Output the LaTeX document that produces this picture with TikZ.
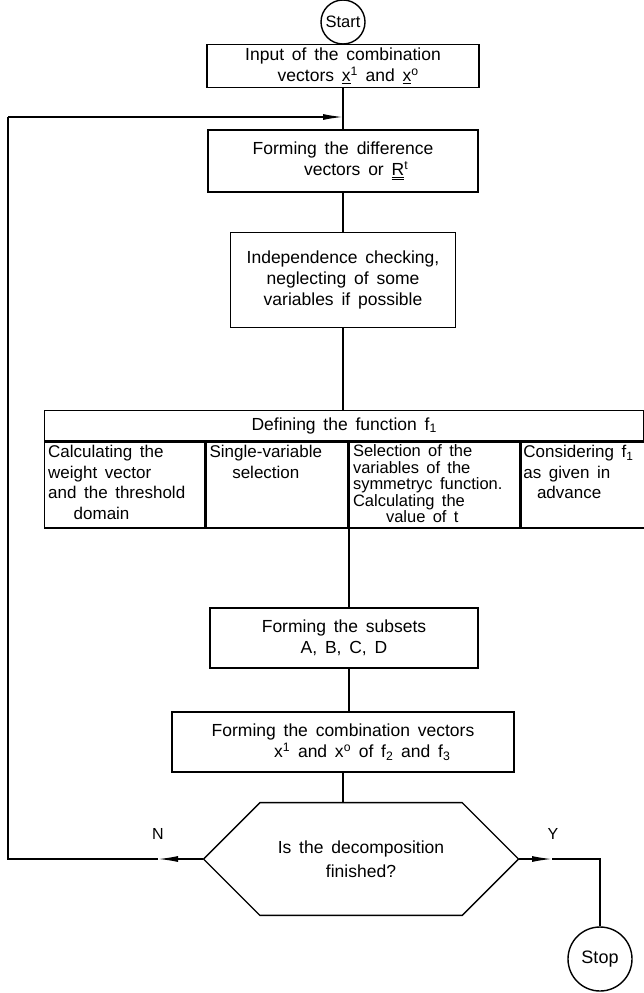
\documentclass[tikz,border=0pt]{standalone}
\usepackage{fontspec}
\setmainfont{Liberation Sans}[WordSpace=1.6]
\usetikzlibrary{arrows.meta,shapes.misc}

\tikzset{
  flow/.style={line width=1.4pt},
  arrowtip/.style={-{Latex[length=20pt,width=6pt]}},
  proc/.style={draw, rectangle, line width=1.4pt, align=center, inner sep=0pt,
    font=\fontsize{17.5}{21}\selectfont},
  term/.style={draw, circle, line width=1.4pt, inner sep=0pt},
  cellbox/.style={draw, rectangle, line width=1.4pt, inner sep=0pt, anchor=north west},
  celltext/.style={inner sep=0pt, font=\fontsize{17}{20.5}\selectfont},
  decision/.style={draw, chamfered rectangle, chamfered rectangle xsep=31pt,
    chamfered rectangle ysep=38pt, line width=1.4pt, align=center, inner sep=0pt,
    font=\fontsize{17.5}{24}\selectfont},
  branch/.style={inner sep=0pt, font=\fontsize{16}{18}\selectfont},
}

\begin{document}
\begin{tikzpicture}[x=1pt,y=-1pt]
\useasboundingbox (0,0) rectangle (644,993);

% main column
\node[term, minimum size=44pt, font=\fontsize{16.5}{18}\selectfont] (start) at (343,22) {Start};
\node[proc, minimum width=272pt, minimum height=43pt] (input) at (343,66)
  {Input of the combination\\\hspace*{0.6em}vectors \underline{x}\textsuperscript{1} and \underline{x}\textsuperscript{o}};
\node[proc, minimum width=270pt, minimum height=62pt] (diff) at (343,161)
  {Forming the difference\\\hspace*{1.5em}vectors or \underline{\underline{R}}\textsuperscript{t}};
\node[proc, minimum width=225pt, minimum height=95pt] (indep) at (343,280)
  {Independence checking,\\neglecting of some\\variables if possible};

% table defining f1
\node[cellbox, minimum width=599pt, minimum height=30pt, font=\fontsize{17.5}{20}\selectfont,
  anchor=north west] (head) at (44,410) {Defining the function f\textsubscript{1}};
\node[cellbox, minimum width=160pt, minimum height=86pt] (c1) at (head.south west) {};
\node[cellbox, minimum width=142pt, minimum height=86pt] (c2) at (c1.north east) {};
\node[cellbox, minimum width=170pt, minimum height=86pt] (c3) at (c2.north east) {};
\node[cellbox, minimum width=127pt, minimum height=86pt] (c4) at (c3.north east) {};

\node[celltext, anchor=north west, align=left] (t1) at ([shift={(4,4)}]c1.north west)
  {Calculating the\\weight vector\\and the threshold\\\hspace*{1.5em}domain};
\node[celltext, anchor=north west, align=center] (t2) at ([shift={(4,4)}]c2.north west)
  {Single-variable\\selection};
\node[celltext, anchor=north west, align=left, font=\fontsize{16.5}{16.5}\selectfont] (t3)
  at ([shift={(4,3)}]c3.north west)
  {Selection of the\\variables of the\\symmetryc function.\\Calculating the\\\hspace*{2em}value of t};
\node[celltext, anchor=north west, align=left] (t4) at ([shift={(3,4)}]c4.north west)
  {Considering f\textsubscript{1}\\as given in\\\hspace*{0.8em}advance};

\node[proc, minimum width=268pt, minimum height=60pt] (subsets) at (344,638)
  {Forming the subsets\\A, B, C, D};
\node[proc, minimum width=342pt, minimum height=60pt] (combo) at (343,742)
  {Forming the combination vectors\\\hspace*{2.2em}x\textsuperscript{1} and x\textsuperscript{o} of f\textsubscript{2} and f\textsubscript{3}};
\node[decision, minimum width=315pt, minimum height=76pt] (dec) at (361,859)
  {Is the decomposition\\finished?};
\node[term, minimum size=64pt, font=\fontsize{18}{20}\selectfont] (stop) at (600,959) {Stop};

\node[branch] (nlab) at (158,834) {N};
\node[branch] (ylab) at (553,834) {Y};

% connectors
\coordinate (join) at (343,117);
\coordinate (leftTop) at (8,117);
\coordinate (leftBot) at (8,859);
\coordinate (nTip) at (158,859);
\coordinate (yTip) at (552,859);
\coordinate (yCorner) at (600,859);

\draw[flow] (start) -- (input);
\draw[flow] (input) -- (diff);
\draw[flow] (diff) -- (indep);
\draw[flow] (indep) -- (indep.south |- head.north);
\draw[flow] (c3.south west) -- (c3.south west |- subsets.north);
\draw[flow] (subsets.south -| c3.south west) -- (c3.south west |- combo.north);
\draw[flow] (combo.south) -- (combo.south |- dec.north);

\draw[flow, arrowtip] (dec.west) -- (nTip);
\draw[flow] (nTip) -- (leftBot) -- (leftTop);
\draw[flow, arrowtip] (leftTop) -- (join);

\draw[flow, arrowtip] (dec.east) -- (yTip);
\draw[flow] (yTip) -- (yCorner) -- (stop);
\end{tikzpicture}
\end{document}
